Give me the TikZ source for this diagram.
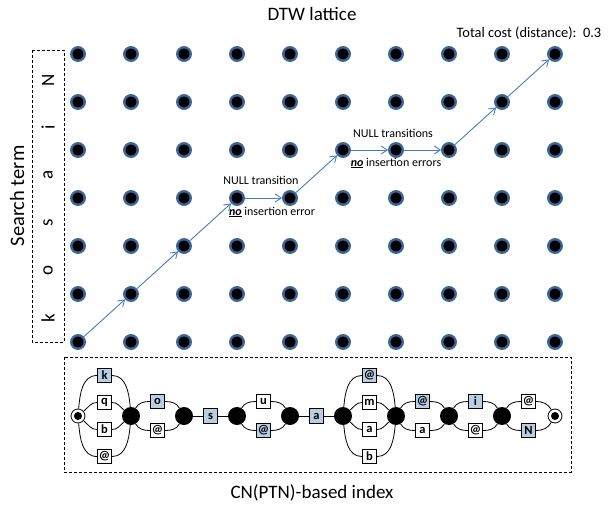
\documentclass[tikz,border=0pt]{standalone}
\usepackage{fontspec}
\setmainfont{Carlito}
\usepackage{tikz}
\usetikzlibrary{arrows.meta}
\usetikzlibrary{positioning}

\definecolor{dotrim}{HTML}{3C6496}
\definecolor{walkblue}{HTML}{4A7EBB}
\definecolor{hitblue}{HTML}{B9CDE5}

\newcommand{\noins}{\underline{\textbf{\textit{no}}}}

\begin{document}
\begin{tikzpicture}[x=1pt, y=-1pt,
    latdot/.style={circle, draw=dotrim, fill=black, line width=2.4pt, minimum size=13.5pt, inner sep=0pt},
    walk/.style={draw=walkblue, line width=0.9pt, -{Straight Barb[length=6pt, width=8pt]}},
    note/.style={inner sep=0pt, font=\fontsize{12}{14}\selectfont},
    title/.style={inner sep=0pt, font=\fontsize{19}{22}\selectfont},
    dashbox/.style={draw, line width=0.8pt, dash pattern=on 3pt off 2pt},
    termletter/.style={inner sep=0pt, rotate=90, font=\fontsize{19}{22}\selectfont},
    cnstate/.style={circle, fill=black, minimum size=18pt, inner sep=0pt},
    cnend/.style={circle, draw, fill=white, line width=0.8pt, minimum size=14pt, inner sep=0pt},
    cnbox/.style={rectangle, draw, fill=white, line width=0.7pt, minimum size=14.5pt, inner sep=0pt, font=\fontsize{12.5}{14}\selectfont\bfseries},
    cnline/.style={draw, line width=0.8pt}]
\useasboundingbox (0,0) rectangle (614,506);

% titles
\node[title] (dtw) at (312,14) {DTW lattice};
\node[title] (cnidx) at (312,493) {CN(PTN)-based index};
\node[inner sep=0pt, font=\fontsize{14.4}{16}\selectfont] (cost) at (529,33) {Total cost (distance):~~0.3};
\node[title, rotate=90, font=\fontsize{20.5}{24}\selectfont] (sterm) at (17,196) {Search term};

% search term
\draw[dashbox] (32,50) rectangle (64,342);
\foreach \ch/\n in {k/0, o/1, s/2, a/3, i/4, N/5}
    \node[termletter] (t\n) at (48, 318-47.6*\n) {\ch};

% lattice
\foreach \c in {0,...,9}
    \foreach \r in {0,...,6}
        \node[latdot] (d\c-\r) at (78+53*\c, 342-48*\r) {};

% best path
\foreach \p/\q in {0-0/1-1, 1-1/2-2, 2-2/3-3, 3-3/4-3, 4-3/5-4, 5-4/6-4, 6-4/7-4, 7-4/8-5, 8-5/9-6}
    \draw[walk] (d\p) -- (d\q);

\node[note] (null1) at (261,180) {NULL transition};
\node[note] (noerr1) at (272,212) {\noins{} insertion error};
\node[note] (null2) at (393,133) {NULL transitions};
\node[note] (noerr2) at (396,163) {\noins{} insertion errors};

% CN index
\draw[dashbox] (64,357) rectangle (571,472);
\node[cnend] (c0) at (78,416) {};
\fill (c0.center) circle (4pt);
\foreach \c in {1,...,8}
    \node[cnstate] (c\c) at (78+53*\c, 416) {};
\node[cnend] (c9) at (555,416) {};
\fill (c9.center) circle (4pt);

% four-way slots
\foreach \g/\ltra/\ltrb/\ltrc/\ltrd in {0/k/q/b/@, 5/@/m/a/b} {
    \pgfmathtruncatemacro{\h}{\g+1}
    \node[cnbox, fill=hitblue] (b\g-1) at (104.5+53*\g, 375.5) {\ltra};
    \node[cnbox] (b\g-2) at (104.5+53*\g, 402.5) {\ltrb};
    \node[cnbox] (b\g-3) at (104.5+53*\g, 429.5) {\ltrc};
    \node[cnbox] (b\g-4) at (104.5+53*\g, 456.5) {\ltrd};
    \draw[cnline] (c\g) to[out=85, in=180] (b\g-1.west) (b\g-1.east) to[out=0, in=95] (c\h);
    \draw[cnline] (c\g) to[out=40, in=180] (b\g-2.west) (b\g-2.east) to[out=0, in=140] (c\h);
    \draw[cnline] (c\g) to[out=-40, in=180] (b\g-3.west) (b\g-3.east) to[out=0, in=-140] (c\h);
    \draw[cnline] (c\g) to[out=-85, in=180] (b\g-4.west) (b\g-4.east) to[out=0, in=-95] (c\h);
}

% two-way slots
\foreach \g/\ltra/\ltrb/\fa/\fb in {1/o/@/hitblue/white, 3/u/@/white/hitblue, 6/@/a/hitblue/white, 7/i/@/hitblue/white, 8/@/N/white/hitblue} {
    \pgfmathtruncatemacro{\h}{\g+1}
    \node[cnbox, fill=\fa] (b\g-1) at (104.5+53*\g, 401.5) {\ltra};
    \node[cnbox, fill=\fb] (b\g-2) at (104.5+53*\g, 430.5) {\ltrb};
    \draw[cnline] (c\g) to[out=60, in=180] (b\g-1.west) (b\g-1.east) to[out=0, in=120] (c\h);
    \draw[cnline] (c\g) to[out=-60, in=180] (b\g-2.west) (b\g-2.east) to[out=0, in=-120] (c\h);
}

% one-way slots
\node[cnbox, fill=hitblue] (b2) at (210.5,416) {s};
\node[cnbox, fill=hitblue] (b4) at (316.5,416) {a};
\draw[cnline] (c2) -- (b2) -- (c3);
\draw[cnline] (c4) -- (b4) -- (c5);
\end{tikzpicture}
\end{document}
